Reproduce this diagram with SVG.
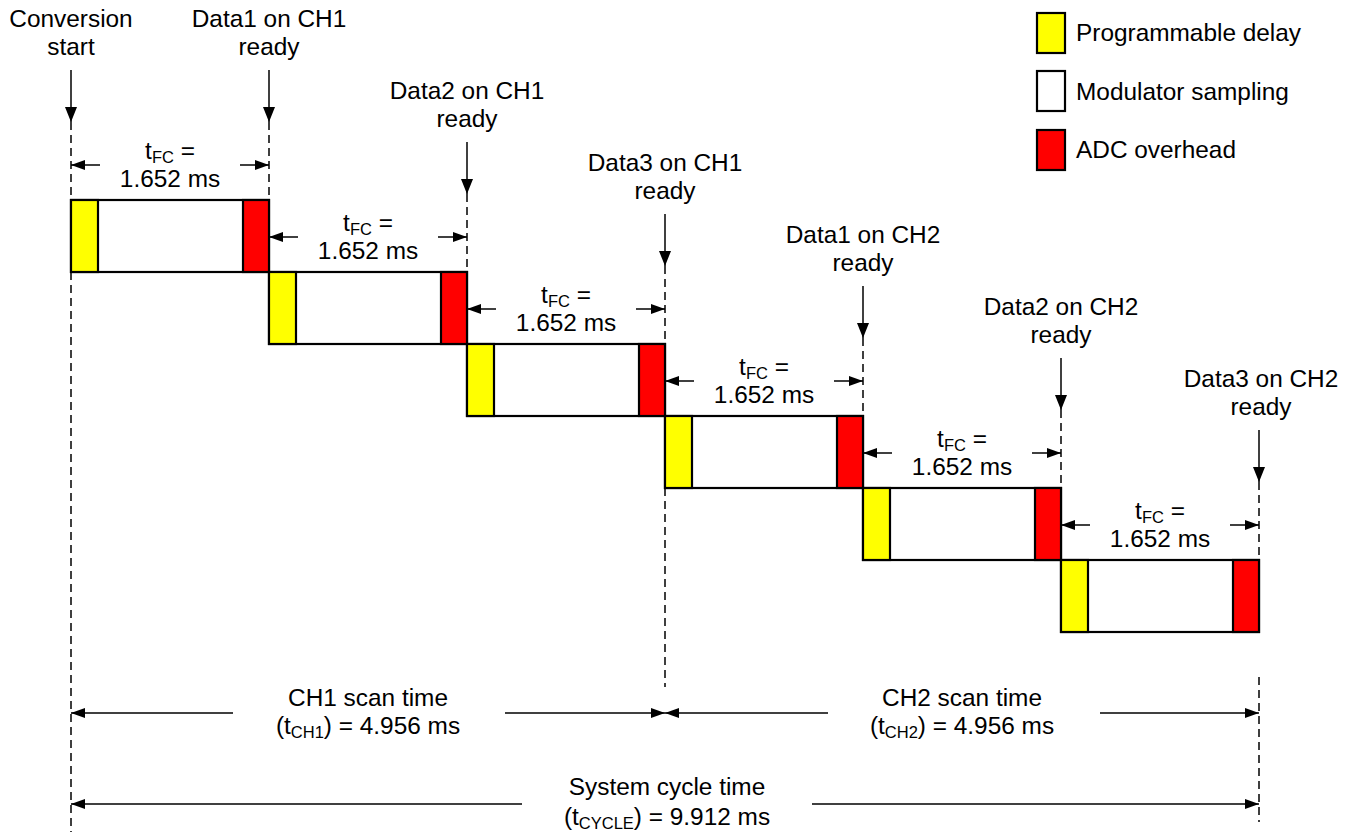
<svg xmlns="http://www.w3.org/2000/svg" width="1356" height="833" viewBox="0 0 1356 833">
<style>
text{font-family:"Liberation Sans",Arial,sans-serif;font-size:24.4px;fill:#000;text-anchor:middle}
.lg{text-anchor:start}
.sub{font-size:16.5px}
.box{stroke:#000;stroke-width:2.2}
.y{fill:#FFFF00}.w{fill:#fff}.r{fill:#FF0000}
.ar{stroke:#000;stroke-width:1.5;fill:none;marker-end:url(#ah)}
.as{stroke:#000;stroke-width:1.5;fill:none;marker-end:url(#ahs)}
.ds{stroke:#000;stroke-width:1.5;fill:none;stroke-dasharray:8 5}
</style>
<defs>
<marker id="ah" markerUnits="userSpaceOnUse" markerWidth="16" markerHeight="12" refX="15" refY="6" orient="auto"><path d="M0,0 L15,6 L0,12 z" fill="#000"/></marker>
<marker id="ahs" markerUnits="userSpaceOnUse" markerWidth="15" markerHeight="11" refX="14" refY="5.5" orient="auto"><path d="M0,0.5 L14,5.5 L0,10.5 z" fill="#000"/></marker>
</defs>

<g id="legend">
<rect class="box y" x="1037" y="13" width="28" height="40"/>
<text class="lg" x="1076" y="41">Programmable delay</text>
<rect class="box w" x="1037" y="71" width="28" height="40"/>
<text class="lg" x="1076" y="100">Modulator sampling</text>
<rect class="box r" x="1037" y="130" width="28" height="40"/>
<text class="lg" x="1076" y="158">ADC overhead</text>
</g>

<g id="connectors">
<path class="ds" d="M71,122 V200 M71,272 V832"/>
<path class="ds" d="M269,122 V200"/>
<path class="ds" d="M467,194 V272"/>
<path class="ds" d="M665,266 V344 M665,488 V687"/>
<path class="ds" d="M863,338 V416"/>
<path class="ds" d="M1061,410 V488"/>
<path class="ds" d="M1259,482 V560 M1259,677 V822"/>
<path class="ar" d="M71,70 V122"/>
<path class="ar" d="M269,70 V122"/>
<path class="ar" d="M467,142 V194"/>
<path class="ar" d="M665,214 V266"/>
<path class="ar" d="M863,286 V338"/>
<path class="ar" d="M1061,358 V410"/>
<path class="ar" d="M1259,430 V482"/>
<path class="as" d="M100,165 H71"/><path class="as" d="M240,165 H269"/>
<path class="as" d="M298,237 H269"/><path class="as" d="M438,237 H467"/>
<path class="as" d="M496,309 H467"/><path class="as" d="M636,309 H665"/>
<path class="as" d="M694,381 H665"/><path class="as" d="M834,381 H863"/>
<path class="as" d="M892,453 H863"/><path class="as" d="M1032,453 H1061"/>
<path class="as" d="M1090,525 H1061"/><path class="as" d="M1230,525 H1259"/>
<path class="as" d="M233,713 H71"/><path class="as" d="M505,713 H665"/>
<path class="as" d="M828,713 H665"/><path class="as" d="M1100,713 H1259"/>
<path class="as" d="M522,804 H71"/><path class="as" d="M812,804 H1259"/>
</g>

<g id="block1"><rect class="box w" x="71" y="200" width="198" height="72"/><rect class="box y" x="71" y="200" width="27" height="72"/><rect class="box r" x="243" y="200" width="26" height="72"/></g>
<g id="block2"><rect class="box w" x="269" y="272" width="198" height="72"/><rect class="box y" x="269" y="272" width="27" height="72"/><rect class="box r" x="441" y="272" width="26" height="72"/></g>
<g id="block3"><rect class="box w" x="467" y="344" width="198" height="72"/><rect class="box y" x="467" y="344" width="27" height="72"/><rect class="box r" x="639" y="344" width="26" height="72"/></g>
<g id="block4"><rect class="box w" x="665" y="416" width="198" height="72"/><rect class="box y" x="665" y="416" width="27" height="72"/><rect class="box r" x="837" y="416" width="26" height="72"/></g>
<g id="block5"><rect class="box w" x="863" y="488" width="198" height="72"/><rect class="box y" x="863" y="488" width="27" height="72"/><rect class="box r" x="1035" y="488" width="26" height="72"/></g>
<g id="block6"><rect class="box w" x="1061" y="560" width="198" height="72"/><rect class="box y" x="1061" y="560" width="27" height="72"/><rect class="box r" x="1233" y="560" width="26" height="72"/></g>

<g id="labels-events">
<text x="71" y="27">Conversion</text><text x="71" y="55">start</text>
<text x="269" y="27">Data1 on CH1</text><text x="269" y="55">ready</text>
<text x="467" y="99">Data2 on CH1</text><text x="467" y="127">ready</text>
<text x="665" y="171">Data3 on CH1</text><text x="665" y="199">ready</text>
<text x="863" y="243">Data1 on CH2</text><text x="863" y="271">ready</text>
<text x="1061" y="315">Data2 on CH2</text><text x="1061" y="343">ready</text>
<text x="1261" y="387">Data3 on CH2</text><text x="1261" y="415">ready</text>
</g>

<g id="labels-tfc">
<text x="170" y="159">t<tspan class="sub" dy="4">FC</tspan><tspan dy="-4"> =</tspan></text><text x="170" y="187">1.652 ms</text>
<text x="368" y="231">t<tspan class="sub" dy="4">FC</tspan><tspan dy="-4"> =</tspan></text><text x="368" y="259">1.652 ms</text>
<text x="566" y="303">t<tspan class="sub" dy="4">FC</tspan><tspan dy="-4"> =</tspan></text><text x="566" y="331">1.652 ms</text>
<text x="764" y="375">t<tspan class="sub" dy="4">FC</tspan><tspan dy="-4"> =</tspan></text><text x="764" y="403">1.652 ms</text>
<text x="962" y="447">t<tspan class="sub" dy="4">FC</tspan><tspan dy="-4"> =</tspan></text><text x="962" y="475">1.652 ms</text>
<text x="1160" y="519">t<tspan class="sub" dy="4">FC</tspan><tspan dy="-4"> =</tspan></text><text x="1160" y="547">1.652 ms</text>
</g>

<g id="labels-scan">
<text x="368" y="706">CH1 scan time</text>
<text x="368" y="734">(t<tspan class="sub" dy="4">CH1</tspan><tspan dy="-4">) = 4.956 ms</tspan></text>
<text x="962" y="706">CH2 scan time</text>
<text x="962" y="734">(t<tspan class="sub" dy="4">CH2</tspan><tspan dy="-4">) = 4.956 ms</tspan></text>
<text x="667" y="795">System cycle time</text>
<text x="667" y="825">(t<tspan class="sub" dy="4">CYCLE</tspan><tspan dy="-4">) = 9.912 ms</tspan></text>
</g>
</svg>
